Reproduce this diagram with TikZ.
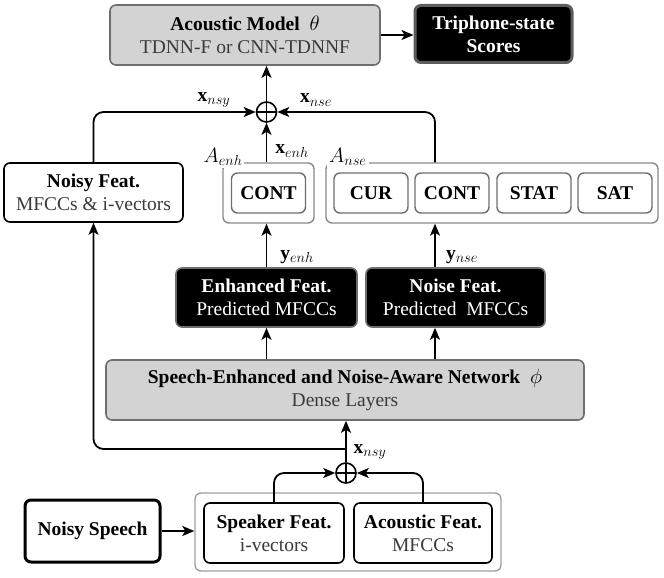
\documentclass[tikz,border=0pt]{standalone}
\usepackage{fontspec}
\setmainfont{Liberation Serif}
\usetikzlibrary{arrows.meta,calc}
\definecolor{boxgray}{HTML}{D3D3D3}
\definecolor{edgegray}{HTML}{6E6E6E}
\definecolor{groupgray}{HTML}{8A8A8A}
\definecolor{subgray}{HTML}{3A3A3A}
\begin{document}
\begin{tikzpicture}[x=1pt,y=-1pt,
  font=\fontsize{19.5}{23}\selectfont,
  base/.style={rounded corners=6pt, align=center, inner sep=0pt, line width=1.6pt},
  graybox/.style={base, draw=edgegray, fill=boxgray},
  blackbox/.style={base, draw=edgegray, fill=black, text=white},
  whitebox/.style={base, draw=black, fill=white},
  innerbox/.style={base, draw=edgegray, line width=1.4pt, minimum height=40pt, minimum width=74pt, font=\fontsize{19.5}{23}\selectfont\bfseries},
  groupbox/.style={base, draw=groupgray, line width=1.4pt},
  oplus/.style={circle, draw, line width=1.6pt, minimum size=20pt, inner sep=0pt,
    path picture={\draw[line width=1.4pt] (path picture bounding box.north) -- (path picture bounding box.south) (path picture bounding box.west) -- (path picture bounding box.east);}},
  arr/.style={line width=1.8pt, -{Stealth[length=12pt,width=10pt,inset=3pt]}},
  conn/.style={line width=1.8pt, rounded corners=10pt},
  lbl/.style={inner sep=1pt},
]
\useasboundingbox (0,0) rectangle (664,578);

% top row
\node[graybox, minimum width=270pt, minimum height=60pt] (am) at (245,35)
  {\textbf{Acoustic Model}~~$\theta$\\{\color{subgray}TDNN-F or CNN-TDNNF}};
\node[blackbox, line width=3pt, draw=edgegray!85!black, minimum width=157pt, minimum height=57pt] (tri) at (493.5,34)
  {\textbf{Triphone-state}\\\textbf{Scores}};
\draw[arr] (am.east) -- (am.east -| tri.west);

\node[oplus] (plus1) at (266.5,112) {};
\draw[arr] (plus1.north) -- (plus1.north |- am.south);

% feature groups
\node[whitebox, minimum width=179pt, minimum height=59pt] (nf) at (93.5,192.5)
  {\textbf{Noisy Feat.}\\{\color{subgray}MFCCs \& i-vectors}};
\node[groupbox, minimum width=91pt, minimum height=60pt] (aenh) at (268.5,193) {};
\node[groupbox, minimum width=332pt, minimum height=60pt] (anse) at (492,193) {};
\node[innerbox] (cont1) at (268.5,193) {CONT};
\node[innerbox] (cur) at (371,193) {CUR};
\node[innerbox] (cont2) at (452,193) {CONT};
\node[innerbox] (stat) at (534,193) {STAT};
\node[innerbox] (sat) at (615,193) {SAT};
\node[fill=white, inner sep=2pt] (laenh) at (223,157) {$A_{enh}$};
\node[fill=white, inner sep=2pt, anchor=west] (lanse) at (327,157) {$A_{nse}$};

\coordinate (tapR) at (435,0);

\draw[conn, arr] (nf.north) |- (plus1.west);
\draw[conn, arr] (tapR |- anse.north) |- (plus1.east);
\draw[arr] (plus1.south |- aenh.north) -- (plus1.south);
\node[lbl] (lxnsy1) at (214,100) {$\mathbf{x}_{nsy}$};
\node[lbl] (lxnse) at (316,100) {$\mathbf{x}_{nse}$};
\node[lbl] (lxenh) at (292,151) {$\mathbf{x}_{enh}$};

% predicted features
\node[blackbox, minimum width=181pt, minimum height=59pt] (enh) at (266.5,297.5)
  {\textbf{Enhanced Feat.}\\Predicted MFCCs};
\node[blackbox, minimum width=179pt, minimum height=59pt] (nse) at (455.5,297.5)
  {\textbf{Noise Feat.}\\Predicted~~MFCCs};
\draw[arr] (plus1.south |- enh.north) -- (plus1.south |- aenh.south);
\draw[arr] (tapR |- nse.north) -- (tapR |- anse.south);
\node[lbl] (lyenh) at (297,257) {$\mathbf{y}_{enh}$};
\node[lbl] (lynse) at (462,257) {$\mathbf{y}_{nse}$};

% network
\node[graybox, minimum width=478pt, minimum height=60pt] (senan) at (345,390)
  {\textbf{Speech-Enhanced and Noise-Aware Network}~~$\phi$\\{\color{subgray}Dense Layers}};
\draw[arr] (plus1.south |- senan.north) -- (plus1.south |- enh.south);
\draw[arr] (tapR |- senan.north) -- (tapR |- nse.south);

% input
\node[oplus] (plus2) at (346,473) {};
\draw[arr] (plus2.north) -- (plus2.north |- senan.south);
\node[lbl] (lxnsy2) at (370,452) {$\mathbf{x}_{nsy}$};
\coordinate (split) at (346,449);
\draw[conn, arr] (split) -| (nf.south);

\node[groupbox, draw=gray!75, minimum width=306pt, minimum height=78pt] (inp) at (348,532) {};
\node[whitebox, minimum width=140pt, minimum height=60pt] (spk) at (274,533)
  {\textbf{Speaker Feat.}\\{\color{subgray}i-vectors}};
\node[whitebox, minimum width=138pt, minimum height=60pt] (acf) at (423,533)
  {\textbf{Acoustic Feat.}\\{\color{subgray}MFCCs}};
\draw[conn, arr] (spk.north) |- (plus2.west);
\draw[conn, arr] (acf.north) |- (plus2.east);

\node[whitebox, line width=3pt, minimum width=135pt, minimum height=62pt] (ns) at (92.5,531)
  {\textbf{Noisy Speech}};
\draw[arr] (ns.east) -- (ns.east -| inp.west);
\end{tikzpicture}
\end{document}
